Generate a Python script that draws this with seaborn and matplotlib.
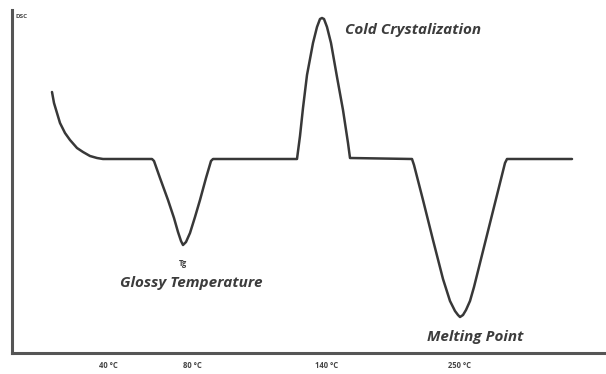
import matplotlib
matplotlib.use("Agg")
import matplotlib.pyplot as plt
import seaborn as sns
import pandas as pd

# Schematic DSC curve (x: temperature axis units, y: heat flow units)
curve_x = [52, 54, 57, 60, 65, 70, 77, 83, 90, 97, 103,
           152, 154, 160, 168, 174, 178, 181, 183, 186, 190, 195, 200, 206, 211, 213,
           297, 300, 303, 307, 313, 317, 320, 322, 324, 327, 331, 337, 343, 348, 350,
           412, 414, 423, 433, 443, 450, 455, 458, 460, 463, 466, 470, 474, 480, 487, 495, 502, 505, 507,
           572]
curve_y = [261, 250, 240, 230, 220, 213, 205, 201, 197, 195, 194,
           194, 192, 175, 153, 135, 121, 112, 108, 111, 120, 136, 153, 175, 192, 194,
           194, 217, 245, 278, 310, 326, 334, 335, 334, 326, 310, 276, 243, 210, 195,
           194, 188, 153, 113, 74, 52, 42, 38, 36, 38, 43, 52, 66, 90, 118, 150, 178, 190, 194,
           194]

tick_pos = [108, 192, 327, 460]
tick_labels = ["40 \u00b0C", "80 \u00b0C", "140 \u00b0C", "250 \u00b0C"]

ann_text = ["Cold Crystalization", "Glossy Temperature", "Melting Point", "Tg"]
ann_x = [345, 120, 427, 183]
ann_y = [323, 70, 16, 89]

sns.set_style("white")
plt.rcParams['font.family'] = ['Open Sans', 'DejaVu Sans']

fig = plt.figure(figsize=(6.06, 3.74), dpi=100)
ax = fig.add_axes([12/606, 21/374, 594/606, 343/374])

df = pd.DataFrame({"x": curve_x, "y": curve_y})
sns.lineplot(data=df, x="x", y="y", sort=False, ax=ax, color="#383838", linewidth=1.8)

ax.set_xlim(12, 606)
ax.set_ylim(0, 343)
ax.set_xlabel("")
ax.set_ylabel("")
ax.set_yticks([])
ax.set_xticks(tick_pos)
ax.set_xticklabels(tick_labels, fontsize=5.5, fontweight="bold", color="#444444")
ax.tick_params(axis="x", length=0, pad=6)

for s in ["top", "right"]:
    ax.spines[s].set_visible(False)
for s in ["left", "bottom"]:
    ax.spines[s].set_color("#555555")
    ax.spines[s].set_linewidth(2.2)

ax.text(16, 336, "DSC", fontsize=4.5, fontweight="bold", color="#444444", va="center", ha="left")

for t, x, y in zip(ann_text, ann_x, ann_y):
    if t == "Tg":
        ax.text(x, y, t, fontsize=5.5, fontweight="bold", color="#444444", ha="center", va="center")
    else:
        ax.text(x, y, t, fontsize=11, fontweight="bold", fontstyle="italic", color="#3c3c3c",
                ha="left", va="center")

fig.savefig("out.png", dpi=100, facecolor="white")
